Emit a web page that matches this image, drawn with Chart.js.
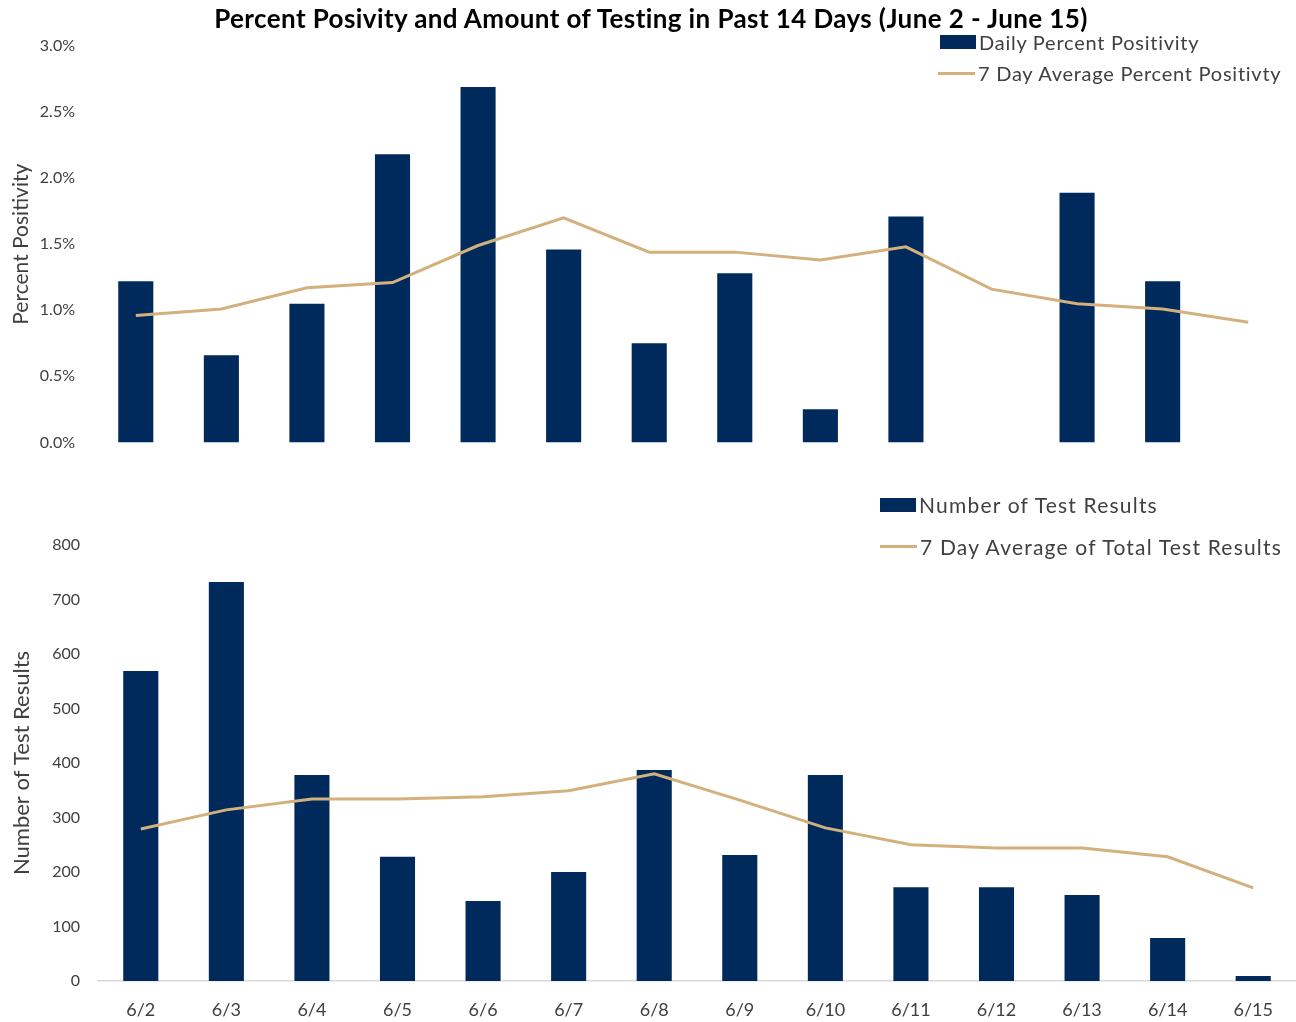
<!DOCTYPE html>
<html>
<head>
<meta charset="utf-8">
<script src="https://cdn.jsdelivr.net/npm/chart.js@4.4.1/dist/chart.umd.min.js"></script>
<style>
  html, body { margin: 0; padding: 0; background: #fff; }
  #wrap { position: relative; width: 1296px; height: 1022px; overflow: hidden; font-family: Lato, "Open Sans", sans-serif; }
  #title { position: absolute; left: 0; width: 1302px; top: 2px; text-align: center; font-weight: bold; font-size: 26px; letter-spacing: 0.4px; color: #000; white-space: nowrap; }
  .leg { position: absolute; color: #404040; white-space: nowrap; display: flex; align-items: center; }
  .leg1 { font-size: 20px; letter-spacing: 0.75px; }
  .leg2 { font-size: 21px; letter-spacing: 1.2px; }
  .sw-bar { display: inline-block; width: 36px; height: 14px; background: #002A5C; margin-right: 3px; }
  .sw-line { display: inline-block; width: 37px; height: 3px; background: #D4B07C; margin-right: 3px; }
  #c1 { position: absolute; left: 0; top: 0; }
  #c2 { position: absolute; left: 0; top: 470px; }
</style>
</head>
<body>
<div id="wrap">
  <canvas id="c1" width="1296" height="470"></canvas>
  <canvas id="c2" width="1296" height="552"></canvas>
  <div id="title">Percent Posivity and Amount of Testing in Past 14 Days (June 2 - June 15)</div>
  <div class="leg leg1" style="left:940px; top:30px;"><span class="sw-bar"></span>Daily Percent Positivity</div>
  <div class="leg leg1" style="left:938px; top:61px;"><span class="sw-line"></span>7 Day Average Percent Positivty</div>
  <div class="leg leg2" style="left:880px; top:492px;"><span class="sw-bar"></span>Number of Test Results</div>
  <div class="leg leg2" style="left:880px; top:534px;"><span class="sw-line"></span>7 Day Average of Total Test Results</div>
</div>
<script>
const categories = ["6/2","6/3","6/4","6/5","6/6","6/7","6/8","6/9","6/10","6/11","6/12","6/13","6/14","6/15"];
const dailyPositivity = [1.22, 0.66, 1.05, 2.18, 2.69, 1.46, 0.75, 1.28, 0.25, 1.71, 0, 1.89, 1.22, null];
const avgPositivity = [0.96, 1.01, 1.17, 1.21, 1.49, 1.70, 1.44, 1.44, 1.38, 1.48, 1.16, 1.05, 1.01, 0.91];
const testResults = [569, 732, 378, 228, 147, 200, 387, 231, 378, 172, 172, 158, 79, 9];
const avgTestResults = [279, 314, 334, 334, 338, 349, 380, 332, 281, 250, 244, 244, 228, 171];

const NAVY = '#002A5C';
const TAN = '#D4B07C';
const TEXT = '#404040';
const FONT = 'Lato, "Open Sans", sans-serif';

Chart.defaults.font.family = FONT;
Chart.defaults.color = TEXT;

new Chart(document.getElementById('c1'), {
  data: {
    labels: categories,
    datasets: [
      { type: 'line', data: avgPositivity, borderColor: TAN, borderWidth: 3, pointRadius: 0, tension: 0, order: 0 },
      { type: 'bar', data: dailyPositivity, backgroundColor: NAVY, categoryPercentage: 1, barPercentage: 0.41, order: 1 }
    ]
  },
  options: {
    responsive: false, animation: false,
    layout: { padding: { top: 46, bottom: 26, right: 5, left: 0 } },
    plugins: { legend: { display: false }, tooltip: { enabled: false } },
    scales: {
      x: { display: false, grid: { display: false } },
      y: {
        min: 0, max: 3,
        afterFit: s => { s.width = 93; },
        grid: { display: false, drawTicks: false },
        border: { display: false },
        ticks: { stepSize: 0.5, padding: 18, font: { size: 16 }, color: TEXT, callback: v => v.toFixed(1) + '%' },
        title: { display: true, text: 'Percent Positivity', font: { size: 21 }, color: TEXT, padding: { top: 9, bottom: 0 } }
      }
    }
  }
});

new Chart(document.getElementById('c2'), {
  data: {
    labels: categories,
    datasets: [
      { type: 'line', data: avgTestResults, borderColor: TAN, borderWidth: 3, pointRadius: 0, tension: 0, order: 0 },
      { type: 'bar', data: testResults, backgroundColor: NAVY, categoryPercentage: 1, barPercentage: 0.41, order: 1 }
    ]
  },
  options: {
    responsive: false, animation: false,
    layout: { padding: { top: 75, bottom: 0, right: 0, left: 0 } },
    plugins: { legend: { display: false }, tooltip: { enabled: false } },
    scales: {
      x: {
        afterFit: s => { s.height = 41; },
        grid: { display: false, drawTicks: false },
        border: { display: true, color: '#D9D9D9', width: 1.5 },
        ticks: { padding: 18, font: { size: 18 }, color: TEXT, maxRotation: 0 }
      },
      y: {
        min: 0, max: 800,
        afterFit: s => { s.width = 98; },
        grid: { display: false, drawTicks: false },
        border: { display: false },
        ticks: { stepSize: 100, padding: 18, font: { size: 16 }, color: TEXT },
        title: { display: true, text: 'Number of Test Results', font: { size: 22 }, color: TEXT, padding: { top: 9, bottom: 0 } }
      }
    }
  }
});
</script>
</body>
</html>
